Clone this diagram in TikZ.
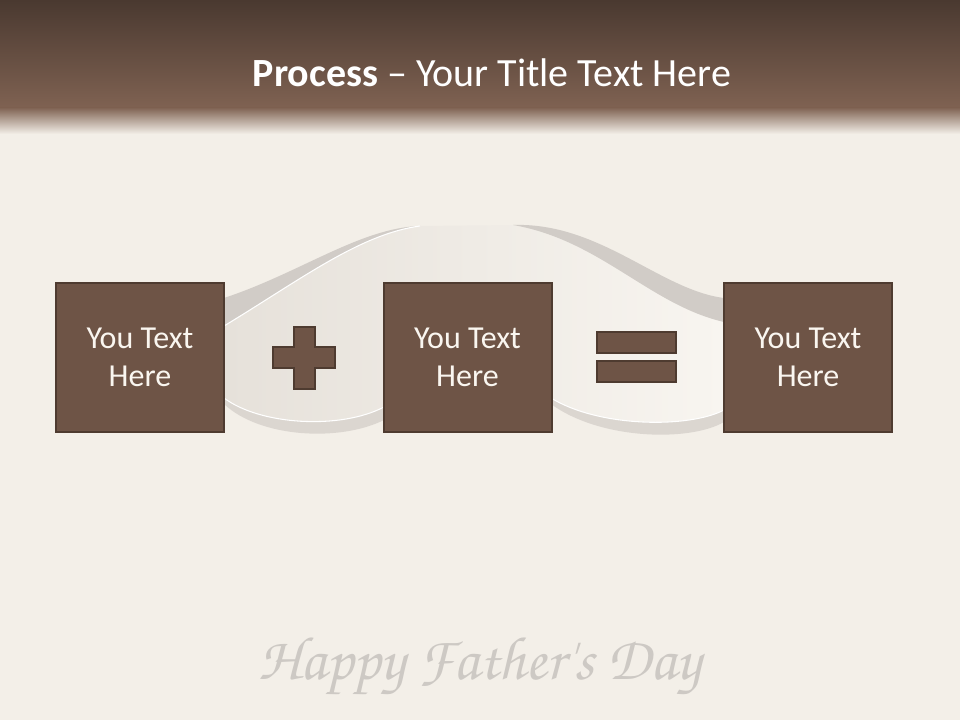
\documentclass[tikz,border=0pt]{standalone}
\usepackage{fontspec}
\setmainfont{Carlito}
\newfontfamily\greetfont{TeX Gyre Chorus}
\definecolor{bgcream}{HTML}{F3EFE8}
\definecolor{hdrtop}{HTML}{4A3930}
\definecolor{hdrbot}{HTML}{7F6252}
\definecolor{boxfill}{HTML}{6E5446}
\definecolor{boxline}{HTML}{4E3B30}
\definecolor{boxtext}{HTML}{FAF6F0}
\definecolor{ribleft}{HTML}{E6E1DA}
\definecolor{ribright}{HTML}{F8F5F0}
\definecolor{ribband}{HTML}{D1CCC7}
\definecolor{greetgray}{HTML}{CDC9C4}
\begin{document}
\begin{tikzpicture}[x=0.75pt,y=-0.75pt,
    txtbox/.style={draw=boxline,line width=1.5pt,fill=boxfill,minimum width=126pt,minimum height=112pt,
      align=center,text=boxtext,font=\fontsize{24}{29}\selectfont},
    symb/.style={draw=boxline,line width=1.5pt,fill=boxfill},
    band/.style={fill=ribband}]
    \useasboundingbox (0,0) rectangle (960,720);
    \fill[bgcream] (0,0) rectangle (960,720);
    \shade[top color=hdrtop,bottom color=hdrbot] (0,0) rectangle (960,108);
    \shade[top color=hdrbot,bottom color=bgcream] (0,107.5) rectangle (960,134);
    \node[text=white,anchor=base,font=\fontsize{30}{36}\selectfont] (title) at (492,87) {\textbf{Process} – Your Title Text Here};
    \shade[left color=ribleft,right color=ribright] (224,300) .. controls (300,275) and (360,228) .. (420,226) -- (515,225)
      .. controls (600,226) and (650,292) .. (724,302) -- (724,410) .. controls (690,428) and (600,428) .. (551,398)
      -- (384,407) .. controls (340,430) and (260,425) .. (224,398) -- cycle;
    \fill[band] (224,298) .. controls (300,273) and (360,228) .. (420,226) .. controls (360,234) and (300,280) .. (224,326) -- cycle;
    \draw[white,line width=0.8pt] (224,326) .. controls (300,280) and (360,234) .. (420,226);
    \fill[band] (513,225) .. controls (600,222) and (660,290) .. (724,298) -- (724,322) .. controls (650,305) and (600,240) .. (513,225) -- cycle;
    \fill[band,opacity=0.7] (224,398) .. controls (260,425) and (340,430) .. (384,407) -- (384,420) .. controls (340,442) and (260,438) .. (224,404) -- cycle;
    \fill[band,opacity=0.7] (551,398) .. controls (600,428) and (690,428) .. (724,410) -- (724,422) .. controls (690,442) and (600,440) .. (551,404) -- cycle;
    \draw[white,line width=0.8pt] (224,398) .. controls (260,425) and (340,430) .. (384,407);
    \draw[white,line width=0.8pt] (551,398) .. controls (600,428) and (690,428) .. (724,410);
    \foreach \n/\x in {a/140,b/467.5,c/808} \node[txtbox] (box\n) at (\x,357.5) {You Text\\Here};
    \draw[symb] (294,327) -- (315,327) -- (315,347) -- (335,347) -- (335,368) -- (315,368) -- (315,389)
      -- (294,389) -- (294,368) -- (273,368) -- (273,347) -- (294,347) -- cycle;
    \foreach \y in {332,361} \draw[symb] (597,\y) rectangle (676,\y+21);
    \node[text=greetgray,anchor=base,font=\greetfont\fontsize{46}{50}\selectfont] (greet) at (480,679) {Happy Father's Day};
\end{tikzpicture}
\end{document}
